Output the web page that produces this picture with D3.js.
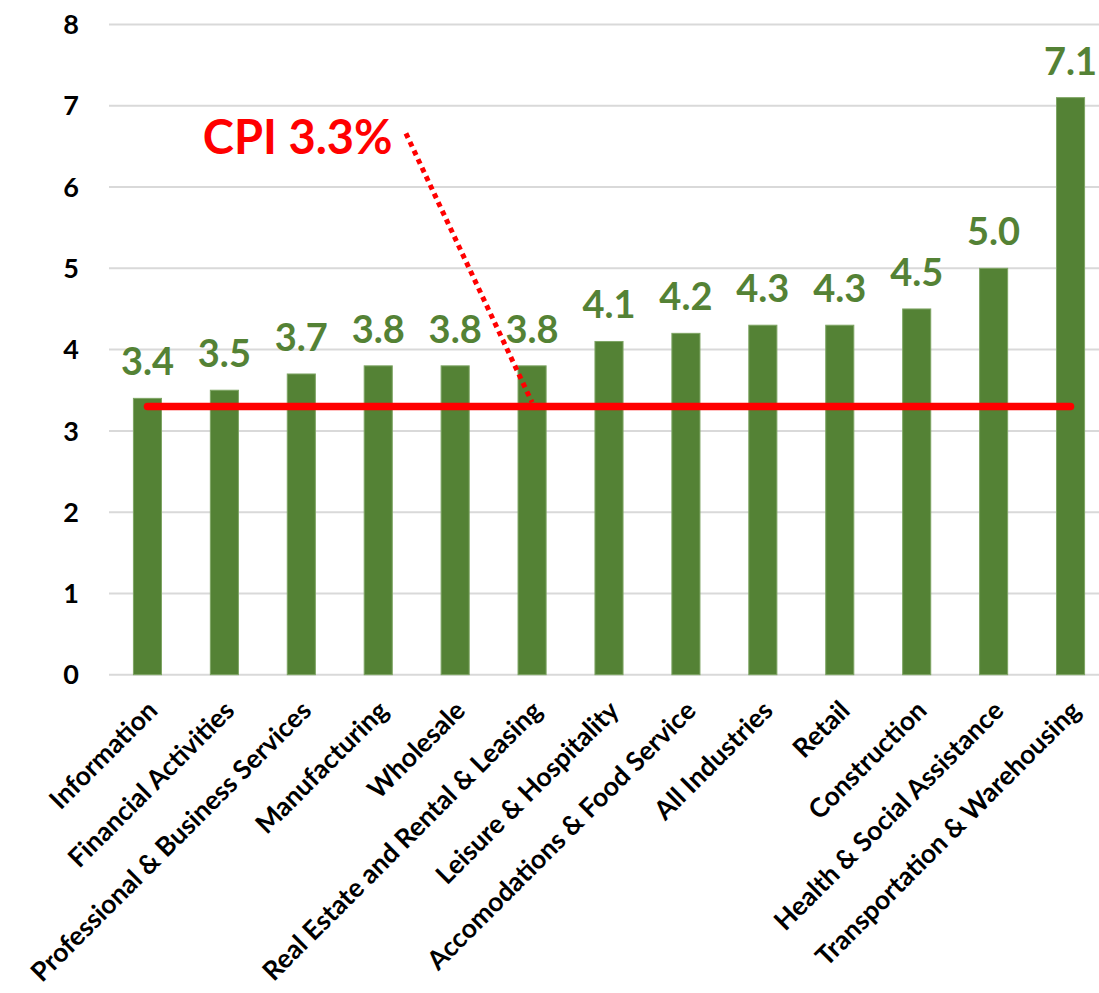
<!DOCTYPE html>
<html>
<head>
<meta charset="utf-8">
<script src="https://cdn.jsdelivr.net/npm/d3@7"></script>
<style>
  body { margin: 0; background: #fff; }
  svg { display: block; }
  text { font-family: Lato, "Open Sans", sans-serif; font-weight: bold; }
</style>
</head>
<body>
<div id="chart"></div>
<script>
// categories and values
var industries = ["Information", "Financial Activities", "Professional & Business Services",
  "Manufacturing", "Wholesale", "Real Estate and Rental & Leasing", "Leisure & Hospitality",
  "Accomodations & Food Service", "All Industries", "Retail", "Construction",
  "Health & Social Assistance", "Transportation & Warehousing"];
var wageGrowth = [3.4, 3.5, 3.7, 3.8, 3.8, 3.8, 4.1, 4.2, 4.3, 4.3, 4.5, 5.0, 7.1];
var yTicks = [0, 1, 2, 3, 4, 5, 6, 7, 8];
var cpiValue = 3.3;
var cpiLabel = "CPI 3.3%";

var width = 1099, height = 993;
var green = "#548235", red = "#ff0000";

var svg = d3.select("#chart").append("svg")
  .attr("width", width)
  .attr("height", height);

// plot area runs a little past the right edge, as in the original
var x = d3.scaleBand().domain(industries).range([109, 1109]).padding(0);
var y = d3.scaleLinear().domain([0, 8]).range([674.7, 24.5]);
var barW = x.bandwidth() * 0.365;
var cx = function(d) { return x(d) + x.bandwidth() / 2; };
// continuous position along the category axis (index units)
var xi = function(i) { return x(industries[0]) + x.bandwidth() / 2 + i * x.step(); };

// grid
svg.append("g").selectAll("line")
  .data(yTicks).enter().append("line")
  .attr("x1", 109).attr("x2", width)
  .attr("y1", function(d) { return y(d); })
  .attr("y2", function(d) { return y(d); })
  .attr("stroke", "#d9d9d9")
  .attr("stroke-width", 2);

// y tick labels
svg.append("g").selectAll("text")
  .data(yTicks).enter().append("text")
  .attr("x", 79)
  .attr("y", function(d) { return y(d); })
  .attr("dy", "0.36em")
  .attr("text-anchor", "end")
  .style("font-size", "27px")
  .attr("fill", "#000")
  .text(function(d) { return d; });

// bars
var data = industries.map(function(d, i) { return { name: d, value: wageGrowth[i] }; });
svg.append("g").selectAll("rect")
  .data(data).enter().append("rect")
  .attr("x", function(d) { return cx(d.name) - barW / 2; })
  .attr("width", barW)
  .attr("y", function(d) { return y(d.value); })
  .attr("height", function(d) { return y(0) - y(d.value); })
  .attr("fill", green)
  .attr("stroke", "#7ea564")
  .attr("stroke-width", 1);

// value labels
svg.append("g").selectAll("text")
  .data(data).enter().append("text")
  .attr("x", function(d) { return cx(d.name); })
  .attr("y", function(d) { return y(d.value) - 23; })
  .attr("text-anchor", "middle")
  .style("font-size", "38px")
  .attr("fill", green)
  .text(function(d) { return d.value.toFixed(1); });

// category labels, rotated
svg.append("g").selectAll("text")
  .data(industries).enter().append("text")
  .attr("transform", function(d) { return "translate(" + (cx(d) + 5) + "," + (y(0) + 31) + ") rotate(-45)"; })
  .attr("dy", "0.35em")
  .attr("text-anchor", "end")
  .style("font-size", "26.5px")
  .attr("fill", "#000")
  .text(function(d) { return d; });

// CPI line
svg.append("line")
  .attr("x1", cx(industries[0]))
  .attr("x2", cx(industries[industries.length - 1]))
  .attr("y1", y(cpiValue)).attr("y2", y(cpiValue))
  .attr("stroke", red)
  .attr("stroke-width", 7.5)
  .attr("stroke-linecap", "round");

// dotted leader from the label to the line
svg.append("line")
  .attr("x1", xi(3.36)).attr("y1", y(6.66))
  .attr("x2", xi(5)).attr("y2", y(3.35))
  .attr("stroke", red)
  .attr("stroke-width", 5)
  .attr("stroke-dasharray", "5,4.5");

svg.append("text")
  .attr("x", xi(0.72))
  .attr("y", y(6.41))
  .style("font-size", "47px")
  .attr("fill", red)
  .text(cpiLabel);
</script>
</body>
</html>
